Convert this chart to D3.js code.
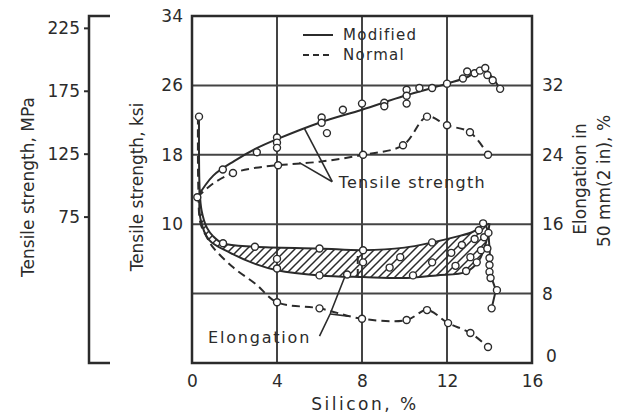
<!DOCTYPE html>
<html lang="en">
<head>
<meta charset="UTF-8">
<script src="https://d3js.org/d3.v7.min.js"></script>
<title>Tensile strength and elongation vs silicon</title>
<style>
    body { margin: 0; background: #fff; }
    svg text { font-family: "DejaVu Sans", sans-serif; fill: #2b2b2b; }
    .tick text { font-size: 17px; }
    .line { fill: none; stroke: #2b2b2b; stroke-width: 2; }
    .dash { stroke-dasharray: 8 5; }
    .pt { fill: #fff; stroke: #2b2b2b; stroke-width: 1.4; }
</style>
</head>
<body>
<div id="chart"></div>
<script>
// ---- data (silicon % on x) ----
// tensile strength, ksi
var modTsLine = [[0.25,13.1],[1,15.6],[2,17.3],[3,18.7],[4,19.8],[6,21.7],[8,23.2],[10,24.8],[12,26.2],[13,27.0],[13.7,28.0],[14.1,27.0],[14.5,25.6]];
var modTsPts = [[0.25,13.1],[1.45,16.3],[3.05,18.3],[4,20.0],[4,19.4],[4,18.8],[6.1,22.3],[6.1,21.7],[6.35,20.5],[7.1,23.2],[8,23.9],[9.05,24.0],[9.05,23.6],[10.1,25.5],[10.1,24.8],[10.1,23.9],[10.7,25.7],[11.3,25.7],[12,26.2],[12.75,26.8],[12.95,27.6],[13.3,27.4],[13.55,27.7],[13.8,28.0],[13.9,27.2],[14.15,26.6],[14.5,25.6]];
var normTsLine = [[0.25,13.1],[1,14.7],[1.93,15.9],[3,16.5],[4.05,16.8],[6,17.2],[8.05,18.0],[9.93,19.1],[11.06,22.4],[12,21.4],[13.08,20.6],[13.93,18.0]];
var normTsPts = [[1.93,15.9],[4.05,16.8],[8.05,18.0],[9.93,19.1],[11.06,22.4],[12,21.4],[13.08,20.6],[13.93,18.0]];

// elongation, %
var modElUpper = [[0.33,28.4],[0.36,20],[0.45,17.6],[0.7,15.6],[1.0,14.6],[1.46,13.8],[2.96,13.4],[6,13.2],[8.05,13.0],[10,13.3],[11.3,13.9],[12.5,14.6],[13.2,15.1],[13.8,16.1]];
var modElLower = [[0.36,20],[0.4,16.6],[0.8,14.2],[1.8,12.7],[3,11.4],[4,10.7],[6,10.1],[8.05,9.9],[10.1,9.8],[11.5,10.1],[12.9,10.5],[13.5,11.8],[13.85,14],[14,16.1]];
var modElDrop = [[13.8,16.1],[13.95,15],[14,13.2],[14.05,11.3],[14.1,9.8],[14.3,8.4],[14.1,6.3]];
var modElPts = [[0.33,28.4],[1.46,13.8],[2.96,13.4],[4,10.9],[4,12.0],[6,13.2],[6,10.1],[7.3,10.2],[8.05,13.0],[8.05,11.6],[9.3,11.0],[9.8,12.2],[10.4,10.1],[11.3,13.9],[11.3,11.6],[12.2,12.7],[12.4,11.2],[12.7,13.6],[12.9,10.6],[13.1,12.2],[13.3,14.3],[13.4,11.6],[13.5,15.3],[13.6,13.0],[13.75,14.5],[13.7,16.1],[13.95,15],[13.9,13.2],[14,12.1],[14,11.3],[14,10.5],[14.05,9.8],[14.35,8.4],[14.1,6.3]];
var normElLine = [[0.28,28.4],[0.3,20],[0.4,16.1],[0.7,14.5],[1,13.3],[1.95,11],[3,9.1],[4,7.0],[6,6.3],[8,5.1],[10.1,4.96],[11.06,6.1],[12.05,4.6],[13.1,3.46],[13.93,1.84]];
var normElPts = [[4,7.0],[6,6.3],[8,5.1],[10.1,4.96],[11.06,6.1],[12.05,4.6],[13.1,3.46],[13.93,1.84]];

// tick labels
var siliconTicks = [0, 4, 8, 12, 16];
var ksiTicks = [10, 18, 26, 34];
var mpaTicks = [75, 125, 175, 225];
var elongTicks = [0, 8, 16, 24, 32];

// ---- scales ----
var width = 626, height = 414;
var x = d3.scaleLinear().domain([0, 16]).range([192, 532]);
var yE = d3.scaleLinear().domain([0, 40]).range([363, 16]);
var yK = d3.scaleLinear().domain([-6, 34]).range([363, 16]);
var yM = d3.scaleLinear().domain([-6 * 6.895, 34 * 6.895]).range([363, 16]);

var svg = d3.select("#chart").append("svg")
    .attr("width", width)
    .attr("height", height);

// hatch pattern for the modified elongation band
svg.append("defs").append("pattern")
    .attr("id", "hatch")
    .attr("patternUnits", "userSpaceOnUse")
    .attr("width", 8).attr("height", 8)
    .append("path")
    .attr("d", "M-2,2 L2,-2 M0,8 L8,0 M6,10 L10,6")
    .attr("stroke", "#2b2b2b").attr("stroke-width", 1.5);

// grid lines
var grid = svg.append("g").attr("stroke", "#444").attr("stroke-width", 2);
grid.selectAll(".gh").data([8, 16, 24, 32]).enter().append("line")
    .attr("x1", x(0)).attr("x2", x(16))
    .attr("y1", function (d) { return yE(d); })
    .attr("y2", function (d) { return yE(d); });
grid.selectAll(".gv").data([4, 8, 12]).enter().append("line")
    .attr("y1", yE(0)).attr("y2", yE(40))
    .attr("x1", function (d) { return x(d); })
    .attr("x2", function (d) { return x(d); });

// frame
svg.append("rect")
    .attr("x", x(0)).attr("y", yE(40))
    .attr("width", x(16) - x(0)).attr("height", yE(0) - yE(40))
    .attr("fill", "none").attr("stroke", "#2b2b2b").attr("stroke-width", 2.5);

// axes
var bottom = svg.append("g").attr("transform", "translate(0," + yE(0) + ")")
    .call(d3.axisBottom(x).tickValues(siliconTicks).tickSize(0).tickPadding(12));
bottom.select(".domain").remove();

var left = svg.append("g").attr("transform", "translate(" + x(0) + ",0)")
    .call(d3.axisLeft(yK).tickValues(ksiTicks).tickSize(0).tickPadding(9));
left.select(".domain").remove();

var right = svg.append("g").attr("transform", "translate(" + x(16) + ",0)")
    .call(d3.axisRight(yE).tickValues(elongTicks).tickSize(0).tickPadding(10));
right.select(".domain").remove();
right.selectAll(".tick text").filter(function (d) { return d === 0; })
    .attr("dx", "4").attr("dy", "-0.1em");

var mpa = svg.append("g").attr("transform", "translate(89,0)")
    .call(d3.axisLeft(yM).tickValues(mpaTicks).tickSize(5).tickPadding(4));
mpa.select(".domain").remove();
mpa.selectAll(".tick line").attr("stroke", "#2b2b2b").attr("stroke-width", 2);
mpa.append("path")
    .attr("d", "M21," + yE(40) + "H0V" + yE(0) + "H21")
    .attr("fill", "none").attr("stroke", "#2b2b2b").attr("stroke-width", 2.5);

// axis titles
svg.append("text").attr("transform", "translate(34,187) rotate(-90)")
    .attr("text-anchor", "middle").style("font-size", "17px")
    .text("Tensile strength, MPa");
svg.append("text").attr("transform", "translate(143,187) rotate(-90)")
    .attr("text-anchor", "middle").style("font-size", "17px")
    .text("Tensile strength, ksi");
svg.append("text").attr("transform", "translate(586,179) rotate(-90)")
    .attr("text-anchor", "middle").style("font-size", "17px")
    .text("Elongation in");
svg.append("text").attr("transform", "translate(610,181) rotate(-90)")
    .attr("text-anchor", "middle").style("font-size", "17px")
    .text("50 mm(2 in), %");
svg.append("text").attr("x", 365).attr("y", 410)
    .attr("text-anchor", "middle").style("font-size", "17px")
    .style("letter-spacing", "2.5px")
    .text("Silicon, %");

// line generators
var lineK = d3.line().x(function (d) { return x(d[0]); }).y(function (d) { return yK(d[1]); })
    .curve(d3.curveCatmullRom.alpha(0.5));
var lineE = d3.line().x(function (d) { return x(d[0]); }).y(function (d) { return yE(d[1]); })
    .curve(d3.curveCatmullRom.alpha(0.5));
var lineEStraight = d3.line().x(function (d) { return x(d[0]); }).y(function (d) { return yE(d[1]); });

// hatched band
var band = modElUpper.concat(modElLower.slice().reverse());
svg.append("path").datum(band)
    .attr("d", lineE.curve(d3.curveCatmullRomClosed.alpha(0.5)))
    .attr("fill", "url(#hatch)").attr("stroke", "none");
lineE.curve(d3.curveCatmullRom.alpha(0.5));

svg.append("path").datum(modElUpper).attr("class", "line").attr("d", lineE);
svg.append("path").datum(modElLower).attr("class", "line").attr("d", lineE);
svg.append("path").datum(modElDrop).attr("class", "line").attr("d", lineEStraight);
svg.append("path").datum([[7.8, 9.9], [7.8, 13.0]]).attr("class", "line dash")
    .attr("stroke-width", 1.5).attr("d", lineEStraight);
svg.append("path").datum(normElLine).attr("class", "line dash").attr("d", lineE);

svg.append("path").datum(modTsLine).attr("class", "line").attr("d", lineK);
svg.append("path").datum(normTsLine).attr("class", "line dash").attr("d", lineK);

// data points
function points(data, scaleY) {
    svg.append("g").selectAll("circle").data(data).enter().append("circle")
        .attr("class", "pt").attr("r", 3.5)
        .attr("cx", function (d) { return x(d[0]); })
        .attr("cy", function (d) { return scaleY(d[1]); });
}
points(modElPts, yE);
points(normElPts, yE);
points(modTsPts, yK);
points(normTsPts, yK);

// annotations with leader lines
var ann = svg.append("g").attr("stroke", "#2b2b2b").attr("stroke-width", 1.6).attr("fill", "none");
ann.append("path").attr("d", "M" + x(6.6) + "," + yE(20.9) + "L" + x(5.3) + "," + yK(21.0));
ann.append("path").attr("d", "M" + x(6.6) + "," + yE(20.9) + "L" + x(5.05) + "," + yK(17.1));
ann.append("path").attr("d", "M" + x(6.0) + "," + yE(3.1) + "L" + x(6.5) + "," + yE(5.65) + "L" + x(7.2) + "," + yE(10.0));
ann.append("path").attr("d", "M" + x(6.5) + "," + yE(5.65) + "L" + x(7.35) + "," + yE(5.4));

svg.append("text").attr("x", x(6.9)).attr("y", yE(20.9) + 6)
    .style("font-size", "16px").style("letter-spacing", "1.3px")
    .text("Tensile strength");
svg.append("text").attr("x", 208).attr("y", yE(2.3))
    .style("font-size", "16px").style("letter-spacing", "1.8px")
    .text("Elongation");

// legend
var legend = svg.append("g");
legend.append("line").attr("x1", 303).attr("x2", 333).attr("y1", 35).attr("y2", 35)
    .attr("class", "line");
legend.append("line").attr("x1", 303).attr("x2", 333).attr("y1", 55).attr("y2", 55)
    .attr("class", "line").attr("stroke-dasharray", "6 4");
legend.append("text").attr("x", 343).attr("y", 40).style("font-size", "15px")
    .style("letter-spacing", "1.3px").text("Modified");
legend.append("text").attr("x", 343).attr("y", 60).style("font-size", "15px")
    .style("letter-spacing", "1.3px").text("Normal");
</script>
</body>
</html>
